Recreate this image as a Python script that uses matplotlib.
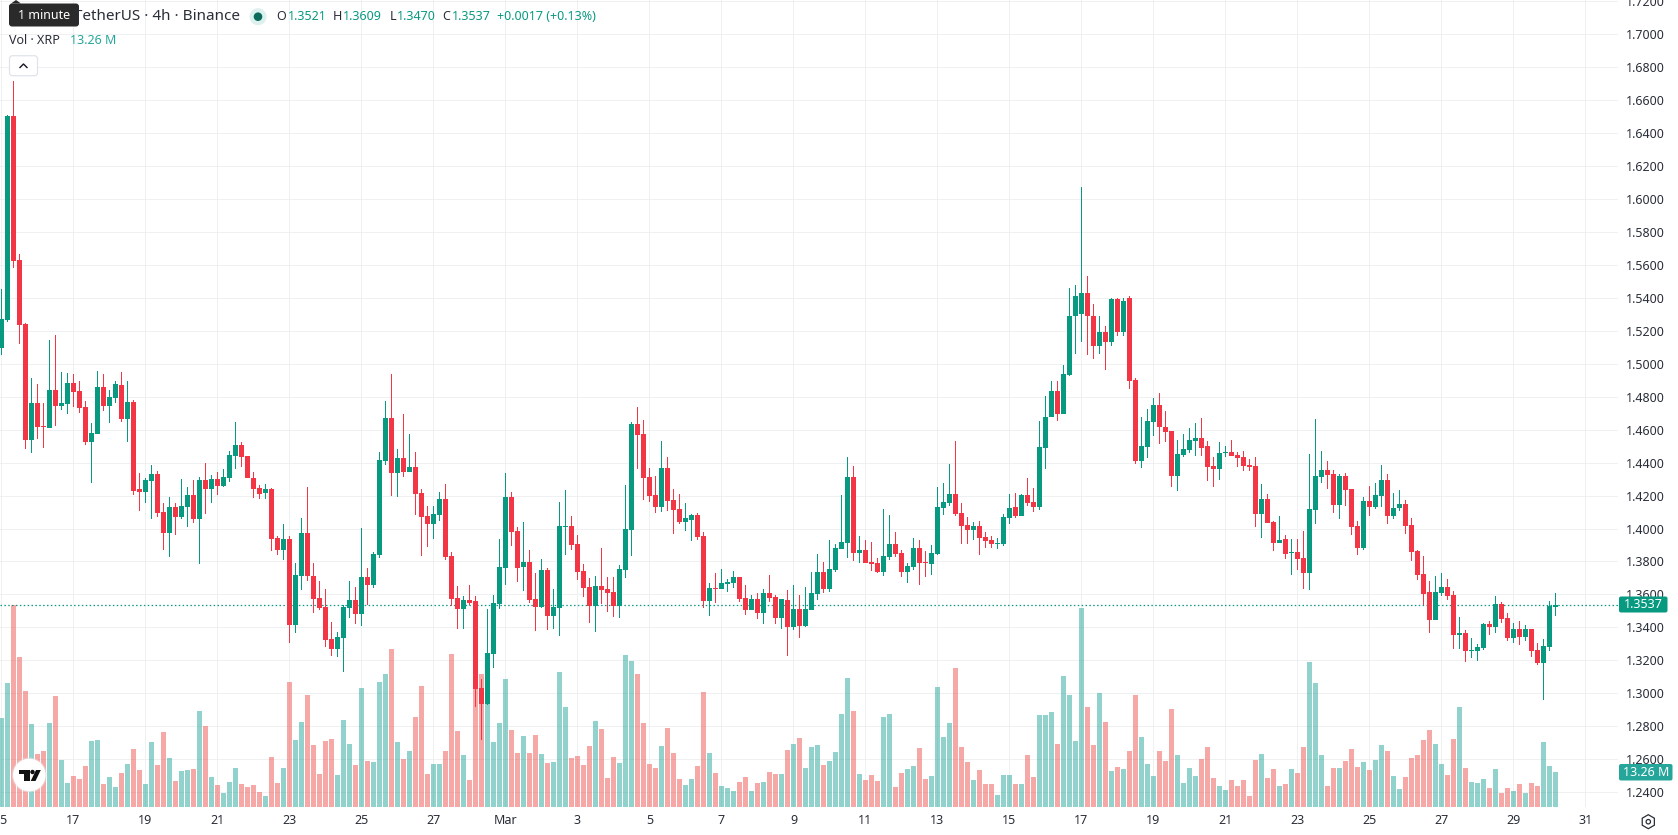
"""XRP/USDT 4h candlestick chart with volume, drawn in a trading-terminal layout."""
import matplotlib

matplotlib.use("Agg")
import matplotlib.pyplot as plt
import numpy as np
from matplotlib.patches import Circle, FancyBboxPatch, Polygon, Rectangle, RegularPolygon

plt.rcParams["font.family"] = ["Noto Sans", "DejaVu Sans"]

WIDTH, HEIGHT = 1678, 835
PANE_W, PANE_H = 1618, 807

opens = [
    1.5098, 1.5265, 1.6502, 1.5629, 1.5241, 1.4538, 1.4762, 1.4623, 1.4611, 1.4841,
    1.4744, 1.4756, 1.4883, 1.4835, 1.4738, 1.4526, 1.4574, 1.4859, 1.4744, 1.4792,
    1.4871, 1.4665, 1.4768, 1.4241, 1.4223, 1.4289, 1.4332, 1.4101, 1.3974, 1.4132,
    1.4071, 1.4132, 1.4204, 1.4059, 1.4295, 1.4241, 1.4301, 1.4259, 1.4308, 1.4441,
    1.4507, 1.4441, 1.4308, 1.4247, 1.4217, 1.4241, 1.3944, 1.3871, 1.3938, 1.3417,
    1.3714, 1.3974, 1.3714, 1.3580, 1.3526, 1.3332, 1.3271, 1.3338, 1.3520, 1.3568,
    1.3483, 1.3708, 1.3659, 1.3841, 1.4411, 1.4671, 1.4338, 1.4429, 1.4344, 1.4374,
    1.4217, 1.4077, 1.4029, 1.4083, 1.4180, 1.3835, 1.3580, 1.3514, 1.3568, 1.3562,
    1.3035, 1.2938, 1.3241, 1.3544, 1.3762, 1.4192, 1.3986, 1.3768, 1.3798, 1.3574,
    1.3526, 1.3750, 1.3471, 1.3520, 1.4011, 1.4017, 1.3907, 1.3744, 1.3647, 1.3532,
    1.3653, 1.3635, 1.3617, 1.3532, 1.3750, 1.3992, 1.4635, 1.4574, 1.4314, 1.4204,
    1.4132, 1.4368, 1.4174, 1.4120, 1.4041, 1.4053, 1.4083, 1.3956, 1.3562, 1.3641,
    1.3635, 1.3665, 1.3671, 1.3708, 1.3580, 1.3508, 1.3574, 1.3489, 1.3611, 1.3586,
    1.3459, 1.3568, 1.3404, 1.3514, 1.3411, 1.3508, 1.3605, 1.3738, 1.3635, 1.3750,
    1.3877, 1.3914, 1.4314, 1.3853, 1.3871, 1.3798, 1.3792, 1.3738, 1.3829, 1.3908,
    1.3853, 1.3738, 1.3768, 1.3883, 1.3798, 1.3786, 1.3847, 1.4126, 1.4156, 1.4211,
    1.4095, 1.4023, 1.3992, 1.4017, 1.3950, 1.3932, 1.3908, 1.3908, 1.4065, 1.4132,
    1.4077, 1.4204, 1.4162, 1.4132, 1.4489, 1.4677, 1.4835, 1.4695, 1.4932, 1.5290,
    1.5300, 1.5430, 1.5290, 1.5110, 1.5190, 1.5130, 1.5390, 1.5190, 1.5400, 1.4901,
    1.4411, 1.4495, 1.4647, 1.4750, 1.4617, 1.4592, 1.4320, 1.4447, 1.4477, 1.4532,
    1.4550, 1.4501, 1.4380, 1.4362, 1.4459, 1.4465, 1.4447, 1.4435, 1.4386, 1.4380,
    1.4089, 1.4180, 1.4041, 1.3914, 1.3938, 1.3853, 1.3859, 1.3823, 1.3732, 1.4114,
    1.4314, 1.4356, 1.4332, 1.4144, 1.4320, 1.4241, 1.4017, 1.3883, 1.4168, 1.4132,
    1.4198, 1.4295, 1.4077, 1.4126, 1.4150, 1.4023, 1.3865, 1.3726, 1.3617, 1.3447,
    1.3611, 1.3647, 1.3598, 1.3356, 1.3368, 1.3259, 1.3259, 1.3277, 1.3423, 1.3405,
    1.3544, 1.3459, 1.3338, 1.3392, 1.3344, 1.3392, 1.3265, 1.3186, 1.3283, 1.3521,
]
highs = [
    1.5453, 1.6508, 1.6714, 1.5665, 1.5247, 1.4914, 1.4877, 1.4762, 1.5144, 1.5175,
    1.4950, 1.4944, 1.4938, 1.4895, 1.4774, 1.4641, 1.4956, 1.4938, 1.4841, 1.4895,
    1.4950, 1.4895, 1.4780, 1.4338, 1.4308, 1.4386, 1.4350, 1.4156, 1.4192, 1.4156,
    1.4301, 1.4253, 1.4295, 1.4314, 1.4398, 1.4326, 1.4344, 1.4362, 1.4471, 1.4647,
    1.4526, 1.4441, 1.4344, 1.4265, 1.4271, 1.4247, 1.3956, 1.4029, 1.3956, 1.3792,
    1.4065, 1.4253, 1.3792, 1.3683, 1.3635, 1.3435, 1.3374, 1.3538, 1.3683, 1.3647,
    1.4005, 1.3762, 1.3859, 1.4465, 1.4774, 1.4938, 1.4483, 1.4695, 1.4574, 1.4465,
    1.4241, 1.4138, 1.4138, 1.4223, 1.4271, 1.3859, 1.3653, 1.3592, 1.3659, 1.3593,
    1.3084, 1.3514, 1.3599, 1.3938, 1.4338, 1.4223, 1.4011, 1.4041, 1.3871, 1.3732,
    1.3817, 1.3762, 1.3635, 1.4162, 1.4235, 1.4077, 1.3962, 1.3786, 1.3702, 1.3714,
    1.3883, 1.3708, 1.3708, 1.3780, 1.4265, 1.4647, 1.4738, 1.4659, 1.4368, 1.4320,
    1.4532, 1.4435, 1.4241, 1.4211, 1.4156, 1.4089, 1.4095, 1.3980, 1.3671, 1.3732,
    1.3756, 1.3695, 1.3744, 1.3708, 1.3659, 1.3598, 1.3611, 1.3635, 1.3720, 1.3598,
    1.3574, 1.3629, 1.3659, 1.3598, 1.3647, 1.3738, 1.3847, 1.3798, 1.3932, 1.3907,
    1.4205, 1.4435, 1.4380, 1.3956, 1.3932, 1.3920, 1.3823, 1.4120, 1.4083, 1.3980,
    1.3871, 1.3792, 1.3944, 1.3932, 1.3865, 1.3901, 1.4253, 1.4277, 1.4392, 1.4532,
    1.4156, 1.4071, 1.4041, 1.4047, 1.3980, 1.3956, 1.3944, 1.4089, 1.4211, 1.4217,
    1.4211, 1.4308, 1.4247, 1.4653, 1.4804, 1.4895, 1.4895, 1.4990, 1.5460, 1.5480,
    1.6074, 1.5530, 1.5360, 1.5290, 1.5230, 1.5400, 1.5400, 1.5400, 1.5410, 1.4914,
    1.4677, 1.4726, 1.4792, 1.4823, 1.4713, 1.4592, 1.4538, 1.4574, 1.4610, 1.4641,
    1.4671, 1.4532, 1.4435, 1.4526, 1.4501, 1.4538, 1.4465, 1.4471, 1.4423, 1.4435,
    1.4271, 1.4211, 1.4047, 1.4077, 1.3962, 1.3938, 1.3938, 1.3986, 1.4453, 1.4665,
    1.4471, 1.4411, 1.4356, 1.4332, 1.4338, 1.4241, 1.4047, 1.4192, 1.4259, 1.4277,
    1.4386, 1.4332, 1.4217, 1.4235, 1.4174, 1.4065, 1.3871, 1.3835, 1.3683, 1.3714,
    1.3732, 1.3695, 1.3623, 1.3465, 1.3386, 1.3338, 1.3301, 1.3429, 1.3441, 1.3592,
    1.3556, 1.3489, 1.3429, 1.3441, 1.3417, 1.3392, 1.3308, 1.3332, 1.3562, 1.3609,
]
lows = [
    1.5053, 1.5253, 1.5581, 1.5120, 1.4483, 1.4459, 1.4544, 1.4489, 1.4611, 1.4623,
    1.4720, 1.4695, 1.4738, 1.4701, 1.4507, 1.4277, 1.4574, 1.4714, 1.4641, 1.4762,
    1.4647, 1.4526, 1.4204, 1.4108, 1.4156, 1.4059, 1.4071, 1.3871, 1.3829, 1.3962,
    1.4059, 1.4011, 1.4035, 1.3786, 1.4089, 1.4156, 1.4205, 1.4253, 1.4283, 1.4362,
    1.4374, 1.4308, 1.4186, 1.4180, 1.4180, 1.3865, 1.3841, 1.3811, 1.3308, 1.3368,
    1.3629, 1.3683, 1.3489, 1.3508, 1.3283, 1.3229, 1.3223, 1.3132, 1.3459, 1.3423,
    1.3411, 1.3538, 1.3641, 1.3823, 1.4386, 1.4198, 1.4192, 1.4314, 1.4344, 1.4083,
    1.3835, 1.3889, 1.3938, 1.4047, 1.3811, 1.3532, 1.3392, 1.3392, 1.3538, 1.2914,
    1.2714, 1.2932, 1.3156, 1.3514, 1.3659, 1.3895, 1.3677, 1.3623, 1.3550, 1.3380,
    1.3520, 1.3386, 1.3392, 1.3350, 1.3841, 1.3871, 1.3689, 1.3586, 1.3429, 1.3374,
    1.3544, 1.3495, 1.3465, 1.3459, 1.3702, 1.3835, 1.4362, 1.4174, 1.4162, 1.4095,
    1.4101, 1.4108, 1.3968, 1.4029, 1.3986, 1.3926, 1.3932, 1.3520, 1.3471, 1.3550,
    1.3635, 1.3617, 1.3641, 1.3556, 1.3477, 1.3508, 1.3453, 1.3423, 1.3556, 1.3423,
    1.3392, 1.3229, 1.3386, 1.3338, 1.3405, 1.3508, 1.3568, 1.3611, 1.3617, 1.3738,
    1.3877, 1.3823, 1.3805, 1.3792, 1.3792, 1.3744, 1.3732, 1.3714, 1.3811, 1.3829,
    1.3708, 1.3671, 1.3750, 1.3659, 1.3708, 1.3720, 1.3841, 1.4083, 1.4138, 1.4077,
    1.3908, 1.3908, 1.3932, 1.3841, 1.3883, 1.3883, 1.3877, 1.3895, 1.4029, 1.4065,
    1.4077, 1.4138, 1.4101, 1.4114, 1.4362, 1.4677, 1.4653, 1.4695, 1.4926, 1.5060,
    1.5130, 1.5050, 1.5030, 1.5060, 1.4960, 1.5110, 1.5170, 1.5170, 1.4847, 1.4392,
    1.4368, 1.4429, 1.4562, 1.4514, 1.4526, 1.4253, 1.4229, 1.4435, 1.4459, 1.4441,
    1.4441, 1.4289, 1.4253, 1.4295, 1.4435, 1.4441, 1.4374, 1.4350, 1.4350, 1.4011,
    1.3944, 1.4035, 1.3865, 1.3914, 1.3817, 1.3720, 1.3750, 1.3635, 1.3629, 1.4029,
    1.4277, 1.4241, 1.4095, 1.4059, 1.4138, 1.3962, 1.3841, 1.3871, 1.4077, 1.4120,
    1.4132, 1.4029, 1.4059, 1.4108, 1.3968, 1.3805, 1.3689, 1.3538, 1.3368, 1.3447,
    1.3592, 1.3568, 1.3271, 1.3271, 1.3192, 1.3217, 1.3198, 1.3265, 1.3356, 1.3368,
    1.3429, 1.3320, 1.3308, 1.3296, 1.3320, 1.3223, 1.3174, 1.2962, 1.3259, 1.3470,
]
closes = [
    1.5269, 1.6502, 1.5623, 1.5235, 1.4538, 1.4762, 1.4617, 1.4617, 1.4841, 1.4744,
    1.4762, 1.4883, 1.4829, 1.4732, 1.4526, 1.4580, 1.4859, 1.4744, 1.4798, 1.4877,
    1.4665, 1.4768, 1.4229, 1.4223, 1.4295, 1.4332, 1.4095, 1.3974, 1.4132, 1.4071,
    1.4138, 1.4204, 1.4059, 1.4295, 1.4241, 1.4301, 1.4259, 1.4314, 1.4447, 1.4507,
    1.4435, 1.4308, 1.4241, 1.4211, 1.4241, 1.3938, 1.3871, 1.3938, 1.3417, 1.3720,
    1.3974, 1.3714, 1.3574, 1.3520, 1.3326, 1.3271, 1.3344, 1.3526, 1.3568, 1.3483,
    1.3708, 1.3659, 1.3847, 1.4417, 1.4671, 1.4338, 1.4429, 1.4344, 1.4374, 1.4211,
    1.4071, 1.4029, 1.4089, 1.4180, 1.3829, 1.3574, 1.3514, 1.3568, 1.3550, 1.3029,
    1.2938, 1.3247, 1.3550, 1.3768, 1.4192, 1.3980, 1.3762, 1.3798, 1.3568, 1.3526,
    1.3750, 1.3471, 1.3526, 1.4017, 1.4017, 1.3901, 1.3738, 1.3641, 1.3532, 1.3653,
    1.3629, 1.3611, 1.3532, 1.3756, 1.4000, 1.4635, 1.4568, 1.4308, 1.4198, 1.4132,
    1.4368, 1.4168, 1.4114, 1.4041, 1.4065, 1.4083, 1.3950, 1.3562, 1.3641, 1.3635,
    1.3671, 1.3677, 1.3708, 1.3574, 1.3508, 1.3574, 1.3489, 1.3611, 1.3580, 1.3459,
    1.3574, 1.3404, 1.3514, 1.3411, 1.3514, 1.3611, 1.3738, 1.3635, 1.3756, 1.3883,
    1.3920, 1.4314, 1.3853, 1.3871, 1.3792, 1.3786, 1.3738, 1.3835, 1.3908, 1.3847,
    1.3738, 1.3774, 1.3883, 1.3792, 1.3792, 1.3853, 1.4132, 1.4162, 1.4211, 1.4089,
    1.4017, 1.3992, 1.4017, 1.3944, 1.3926, 1.3908, 1.3914, 1.4071, 1.4126, 1.4077,
    1.4204, 1.4156, 1.4132, 1.4495, 1.4677, 1.4835, 1.4695, 1.4938, 1.5290, 1.5410,
    1.5430, 1.5290, 1.5110, 1.5190, 1.5130, 1.5390, 1.5190, 1.5380, 1.4895, 1.4411,
    1.4501, 1.4653, 1.4750, 1.4617, 1.4586, 1.4320, 1.4453, 1.4483, 1.4538, 1.4550,
    1.4489, 1.4374, 1.4362, 1.4459, 1.4465, 1.4441, 1.4429, 1.4380, 1.4374, 1.4089,
    1.4180, 1.4035, 1.3914, 1.3932, 1.3847, 1.3859, 1.3817, 1.3732, 1.4120, 1.4320,
    1.4356, 1.4326, 1.4144, 1.4320, 1.4235, 1.4011, 1.3883, 1.4168, 1.4132, 1.4204,
    1.4295, 1.4077, 1.4126, 1.4150, 1.4017, 1.3859, 1.3720, 1.3605, 1.3447, 1.3617,
    1.3647, 1.3592, 1.3356, 1.3368, 1.3259, 1.3265, 1.3283, 1.3423, 1.3405, 1.3544,
    1.3453, 1.3338, 1.3392, 1.3344, 1.3392, 1.3259, 1.3186, 1.3289, 1.3532, 1.3537,
]
volumes_m = [
    33.7, 47.0, 76.5, 56.8, 44.0, 31.4, 20.1, 21.2, 31.8, 42.1,
    17.8, 9.1, 11.7, 10.6, 15.5, 25.0, 25.4, 8.7, 11.4, 7.6,
    12.9, 16.3, 22.0, 14.0, 8.7, 24.6, 15.9, 28.4, 18.6, 9.9,
    13.6, 14.0, 14.4, 36.4, 30.7, 11.4, 8.3, 5.3, 9.5, 14.8,
    8.7, 7.6, 8.3, 5.7, 4.2, 18.9, 9.1, 14.8, 47.4, 25.4,
    32.2, 42.4, 23.5, 12.5, 25.0, 25.8, 12.1, 33.0, 23.9, 15.9,
    45.1, 17.4, 17.1, 47.4, 50.4, 59.9, 24.6, 18.2, 21.2, 34.1,
    45.9, 12.5, 16.3, 16.3, 21.2, 57.9, 28.7, 19.7, 10.2, 57.0,
    50.4, 44.3, 24.6, 31.8, 48.5, 29.2, 20.5, 26.9, 20.5, 27.3,
    20.1, 16.7, 17.1, 51.2, 37.9, 18.6, 19.3, 15.9, 23.1, 32.6,
    29.6, 11.0, 18.9, 16.7, 57.6, 55.3, 50.4, 31.8, 16.3, 14.8,
    23.1, 29.9, 20.5, 10.6, 8.3, 10.6, 15.5, 43.6, 20.5, 12.9,
    8.0, 7.2, 6.1, 9.5, 11.4, 6.1, 9.1, 9.5, 13.3, 12.5,
    12.5, 21.6, 23.9, 26.1, 14.8, 22.7, 23.5, 15.9, 17.4, 20.8,
    35.2, 48.9, 36.4, 12.5, 10.2, 12.1, 9.9, 34.1, 35.2, 7.6,
    12.9, 14.4, 15.5, 22.4, 10.6, 11.7, 45.5, 26.5, 31.8, 52.7,
    22.7, 17.1, 10.2, 14.0, 8.7, 8.7, 4.5, 12.1, 12.1, 8.7,
    8.7, 19.7, 11.4, 34.9, 34.9, 36.0, 23.9, 49.6, 42.4, 25.0,
    75.4, 37.9, 23.5, 43.2, 32.2, 13.6, 15.2, 14.4, 21.2, 42.4,
    26.5, 16.3, 11.7, 21.2, 17.4, 37.1, 19.7, 9.1, 14.8, 11.7,
    18.2, 22.7, 11.0, 8.0, 6.4, 10.2, 8.0, 10.2, 4.2, 17.8,
    20.1, 11.0, 14.4, 8.0, 8.7, 14.4, 12.9, 22.7, 54.9, 47.0,
    19.7, 8.0, 14.8, 14.8, 17.4, 22.0, 15.2, 17.1, 14.0, 17.8,
    23.5, 21.2, 11.7, 6.8, 11.4, 18.6, 19.7, 25.4, 29.2, 23.9,
    16.3, 12.1, 25.8, 37.9, 14.8, 9.5, 9.1, 10.6, 7.2, 14.4,
    5.3, 7.2, 6.1, 8.7, 5.3, 9.1, 8.0, 24.6, 15.5, 13.26,
]

price_ticks = [1.24 + 0.02 * k for k in range(25)]
date_ticks = [12 * k for k in range(23)]
date_labels = ["15", "17", "19", "21", "23", "25", "27", "Mar", "3", "5", "7", "9", "11",
               "13", "15", "17", "19", "21", "23", "25", "27", "29", "31"]
last_price = 1.3537
last_volume = "13.26 M"

GREEN, RED = "#089981", "#F23645"
VOL_GREEN, VOL_RED = "#26A69A", "#EF5350"
GRID = "#EFF0F2"
TEXT = "#2A2E39"

opens_a, highs_a, lows_a, closes_a = map(np.array, (opens, highs, lows, closes))
vols = np.array(volumes_m)
x = np.arange(len(opens))
up = closes_a >= opens_a
candle_colors = np.where(up, GREEN, RED)
volume_colors = np.where(up, VOL_GREEN, VOL_RED)

fig = plt.figure(figsize=(WIDTH / 100, HEIGHT / 100), dpi=100, facecolor="white")
ax = fig.add_axes([0, 1 - PANE_H / HEIGHT, PANE_W / WIDTH, PANE_H / HEIGHT])
ax.set_xlim(-0.25, (PANE_W - 1.5) / 6)
ax.set_ylim(1.24 - (PANE_H - 792.2) / 1648, 1.68 + 67.1 / 1648)

ax.set_axisbelow(True)
ax.grid(True, color=GRID, linewidth=0.72)
for side in ax.spines.values():
    side.set_visible(False)

# volume sits on its own scale along the bottom of the pane
vol_ax = ax.twinx()
vol_ax.set_ylim(0, PANE_H / 2.64)
vol_ax.axis("off")
vol_ax.bar(x, vols, width=5 / 6, color=volume_colors, alpha=0.5, linewidth=0)

# candles go on an axes above the volume bars so the bodies cover them
top = ax.twinx()
top.set_ylim(ax.get_ylim())
top.axis("off")
top.axhline(last_price, color=GREEN, linewidth=0.9, linestyle=(0, (1.2, 1.9)), zorder=1)
top.bar(x, highs_a - lows_a, bottom=lows_a, width=1 / 6, color=candle_colors, linewidth=0, zorder=2)
body_low = np.minimum(opens_a, closes_a)
body_h = np.maximum(np.abs(closes_a - opens_a), 0.0006)
top.bar(x, body_h, bottom=body_low, width=5 / 6, color=candle_colors, linewidth=0, zorder=3)

# twinx moves the ticks back to the left, so the scale is set up after it
ax.yaxis.tick_right()
ax.set_yticks(price_ticks)
ax.set_yticklabels([f"{p:.4f}" for p in price_ticks])
ax.set_xticks(date_ticks)
ax.set_xticklabels(date_labels)
ax.tick_params(axis="both", length=0, labelsize=9, labelcolor=TEXT)
ax.tick_params(axis="y", pad=6)
ax.tick_params(axis="x", pad=5)
ax.get_xticklabels()[date_labels.index("Mar")].set_fontweight("bold")

# overlay in pixel coordinates for the header, tags and small controls
ui = fig.add_axes([0, 0, 1, 1], facecolor="none", zorder=10)
ui.set_xlim(0, WIDTH)
ui.set_ylim(HEIGHT, 0)
ui.axis("off")


def label(px, py, text, color=TEXT, size=9, ha="left", **kw):
    ui.text(px, py, text, color=color, fontsize=size, ha=ha, va="center", **kw)


# price and volume tags on the right scale
ui.add_patch(FancyBboxPatch((1619, 596.5), 48.5, 16, boxstyle="round,pad=0,rounding_size=2",
                            facecolor=GREEN, edgecolor="none"))
label(1643, 604, f"{last_price:.4f}", color="white", ha="center")
ui.add_patch(FancyBboxPatch((1619, 764), 53.5, 16.5, boxstyle="round,pad=0,rounding_size=2",
                            facecolor=VOL_GREEN, edgecolor="none"))
label(1646, 772, last_volume, color="white", ha="center")

# header rows
label(240, 16.7, "TetherUS · 4h · Binance", size=11, ha="right")
ui.add_patch(Circle((258, 16.7), 8.5, facecolor="#DCF0ED", edgecolor="none"))
ui.add_patch(Circle((258, 16.7), 4.3, facecolor="#0B6B5B", edgecolor="none"))
for px, letter in ((276, "O"), (333, "H"), (389.5, "L"), (442, "C")):
    label(px, 16.7, letter, size=9)
for px, value in ((288, "1.3521"), (343, "1.3609"), (396.5, "1.3470"), (452, "1.3537")):
    label(px, 16.7, value, color=GREEN, size=9)
label(497, 16.7, "+0.0017 (+0.13%)", color=GREEN, size=9)
label(9, 40.7, "Vol · XRP", size=9)
label(70.5, 40.7, last_volume, color=VOL_GREEN, size=9)

# tooltip over the symbol name
ui.add_patch(FancyBboxPatch((9, 3.5), 70, 23, boxstyle="round,pad=0,rounding_size=3",
                            facecolor="#2A2A2A", edgecolor="none"))
ui.add_patch(Polygon([(11, 3.5), (16, 0), (21, 3.5)], facecolor="#2A2A2A", edgecolor="none"))
label(44, 15.5, "1 minute", color="white", size=9, ha="center")

# collapse button
ui.add_patch(FancyBboxPatch((9.5, 55.7), 28, 20, boxstyle="round,pad=0,rounding_size=3",
                            facecolor="white", edgecolor="#E0E3EB", linewidth=0.9))
ui.plot([20, 23.5, 27], [67.5, 64, 67.5], color="#131722", linewidth=1.0)

# logo badge
ui.add_patch(Circle((29.3, 775), 17.5, facecolor="#E9E9E9", edgecolor="none", alpha=0.5))
ui.add_patch(Circle((29.3, 775), 16.3, facecolor="white", edgecolor="none"))
ui.add_patch(Rectangle((19, 770), 10.5, 4.2, facecolor="#111111", edgecolor="none"))
ui.add_patch(Rectangle((24, 770), 5.5, 11, facecolor="#111111", edgecolor="none"))
ui.add_patch(Circle((32.5, 772), 2.2, facecolor="#111111", edgecolor="none"))
ui.add_patch(Polygon([(36, 770), (40.8, 770), (35.5, 781), (30.7, 781)], facecolor="#111111", edgecolor="none"))

# settings icon in the corner
ui.add_patch(RegularPolygon((1648.3, 821.7), 6, radius=7, orientation=0, facecolor="none",
                            edgecolor="#2A2E39", linewidth=0.9))
ui.add_patch(Circle((1648.3, 821.7), 2.2, facecolor="none", edgecolor="#2A2E39", linewidth=0.9))

fig.savefig("out.png", dpi=100)
